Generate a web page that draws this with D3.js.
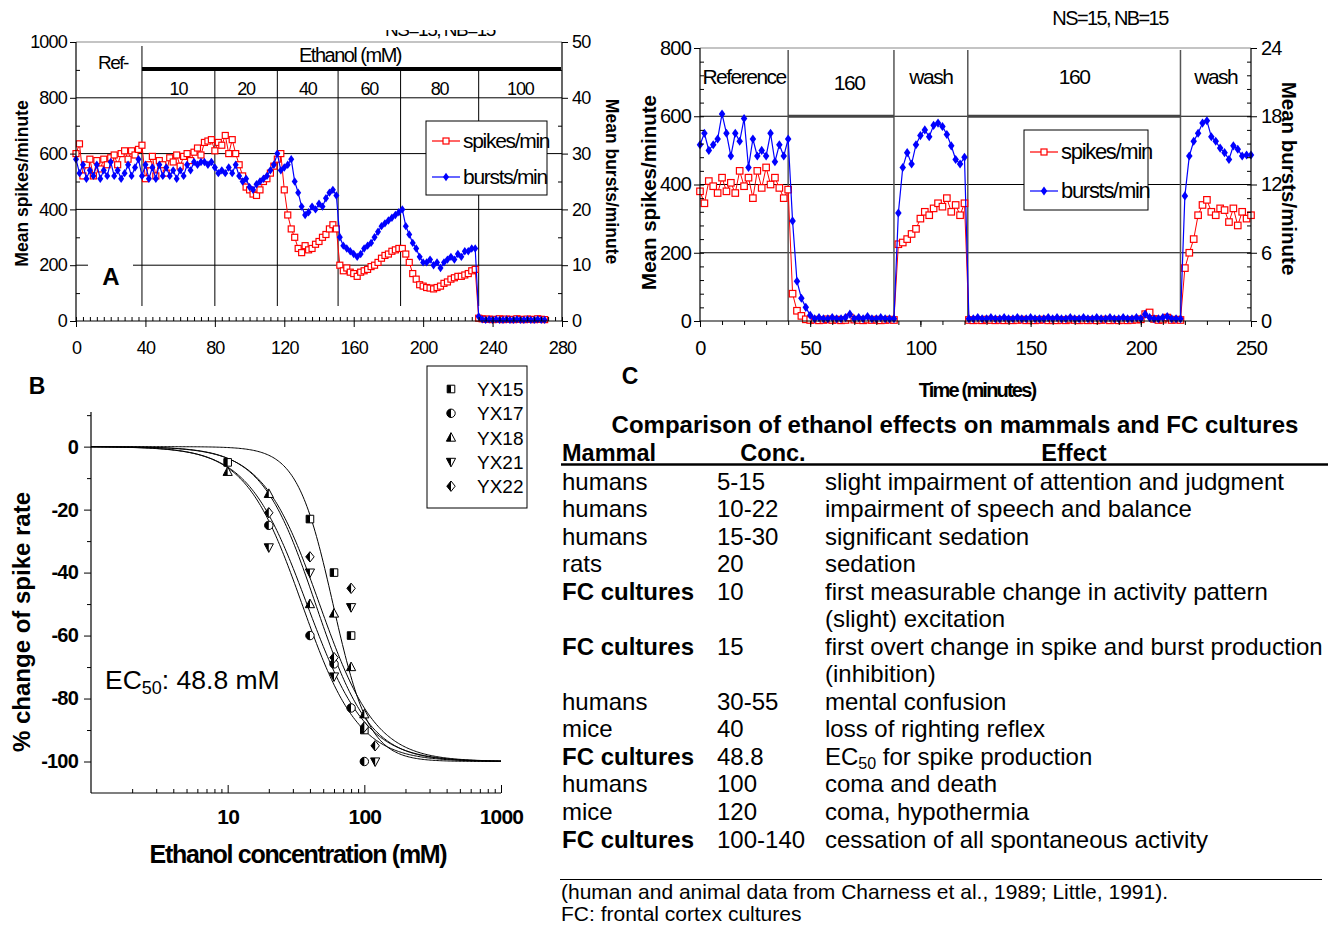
<!DOCTYPE html>
<html>
<head>
<meta charset="utf-8">
<script src="https://cdn.jsdelivr.net/npm/d3@7"></script>
<style>
  body { margin: 0; background: #fff; }
  svg { display: block; font-family: "Liberation Sans", Arial, sans-serif; }
  .nar { font-family: "Liberation Sans Narrow", "Arial Narrow", "Liberation Sans", Arial, sans-serif; }
</style>
</head>
<body>
<script>
// ---------- panel A: ethanol steps, sampled every 2 min ----------
const stepA = 2;
const spikesA = [600,635,520,560,580,520,575,545,580,560,
  585,595,560,600,610,580,610,595,615,630,
  510,560,590,520,575,560,530,585,570,595,
  555,590,600,575,605,620,595,640,645,650,
  610,640,630,665,600,650,600,560,520,480,
  470,455,450,470,500,510,530,555,580,600,
  470,380,330,300,260,245,270,255,260,275,
  285,300,310,330,345,330,200,180,190,175,
  170,160,175,180,185,195,200,210,225,235,
  240,250,255,260,260,240,210,170,150,130,
  125,120,118,115,120,125,135,140,150,155,
  160,160,165,170,180,185,10,8,6,7,
  5,6,8,5,7,6,5,8,6,5,
  7,6,5,8,6,5];
const burstsA = [29,26.5,28,25.5,27,26,28,25.5,27,26,
  28.5,26,27,25.5,26.5,28,26,27.5,29,26,
  28,25.5,27.5,25.5,28,26,27.5,26,27,25.5,
  27,26,28,27,28.5,28,28.5,28.5,28,28.5,
  27.5,26.5,27,26.5,27.5,26.5,28,26,25,25.5,
  24,23.5,24.5,25,25.5,26,27,28,30,27,
  27.5,28,29,25,23,20.5,19,19.5,20.5,20,
  21,20.5,22,23,23.5,22.5,15,13.5,13,12.5,
  12,11.5,12,13,13.5,14,15,16,17,17.5,
  18,18.5,19,19.5,20,17,15.5,14,13,11.5,
  10.5,10.5,11,10,10.5,9.5,10.5,11,11.5,11,
  12,11.5,12.5,12.5,13,13,0.8,0.3,0.2,0.3,
  0.2,0.3,0.2,0.2,0.3,0.2,0.2,0.3,0.2,0.2,
  0.3,0.2,0.2,0.3,0.2,0.2];
const phasesA = [38, 80, 116, 151, 187, 232];
const concLabelsA = ["10", "20", "40", "60", "80", "100"];

// ---------- panel C (top right): 160 mM and wash, sampled every 2 min ----------
const stepC = 2;
const spikesC = [380,345,410,395,375,420,380,405,375,440,
  395,420,360,440,390,450,400,420,390,360,
  385,80,30,15,5,3,4,2,3,5,
  3,4,2,3,10,4,3,2,4,3,
  4,2,3,4,3,225,230,240,255,270,
  300,320,310,330,345,335,360,320,340,310,
  345,3,2,3,2,4,3,2,3,2,
  3,2,3,4,2,3,2,3,4,2,
  3,2,3,2,4,3,2,3,2,3,
  2,3,4,2,3,2,3,2,3,4,
  5,20,25,6,3,4,10,3,4,3,
  155,200,240,310,340,355,320,310,330,325,
  290,330,280,320,300,310];
const burstsC = [15.5,16.5,15,15.5,16,18.2,16.5,14.5,16.5,15.8,
  17.8,13.5,16,14.5,15,14.5,16.5,14,15.5,14.5,
  16,8.8,3.5,2,1.2,0.5,0.2,0.3,0.2,0.2,
  0.3,0.2,0.2,0.3,0.6,0.2,0.3,0.2,0.4,0.2,
  0.2,0.3,0.2,0.2,0.2,9.5,13.5,14.8,13.8,15.5,
  16.3,16.8,16.2,17.2,17.4,17.1,16.4,15.4,14.2,13.8,
  14.4,0.2,0.2,0.3,0.2,0.2,0.3,0.2,0.2,0.3,
  0.2,0.2,0.3,0.2,0.2,0.3,0.2,0.2,0.2,0.3,
  0.2,0.3,0.2,0.2,0.3,0.2,0.2,0.3,0.2,0.2,
  0.3,0.2,0.2,0.3,0.2,0.2,0.3,0.2,0.2,0.3,
  0.2,0.6,0.3,0.2,0.2,0.3,0.4,0.2,0.2,0.2,
  11,14.5,15.8,16.5,17.4,17.6,16.2,15.8,15.2,14.8,
  14.2,15.4,15.1,14.5,14.6,14.6];
const phasesC = [0, 40, 88, 121.5, 218, 250];
const phaseLabelsC = ["Reference", "160", "wash", "160", "wash"];
const exposureC = [[40, 88], [121.5, 218]];

// ---------- panel B: dose response ----------
const cultures = ["YX15", "YX17", "YX18", "YX21", "YX22"];
const doseYX15 = [[10, -5], [40, -23], [60, -40], [80, -60], [100, -90]];
const doseYX17 = [[20, -25], [40, -60], [60, -69], [80, -83], [100, -100]];
const doseYX18 = [[10, -8], [20, -15], [40, -50], [60, -53], [80, -70], [100, -85]];
const doseYX21 = [[20, -32], [40, -40], [60, -73], [80, -51], [120, -100]];
const doseYX22 = [[20, -21], [40, -35], [60, -67], [80, -45], [100, -89], [120, -95]];
const fitEC50 = [35, 38, 44, 47, 59];
const fitHill = [2.1, 2.0, 2.2, 2.1, 3.3];

// ---------- table ----------
const tblMammal = ["humans","humans","humans","rats","FC cultures","","FC cultures","","humans","mice","FC cultures","humans","mice","FC cultures"];
const tblConc = ["5-15","10-22","15-30","20","10","","15","","30-55","40","48.8","100","120","100-140"];
const tblEffect = ["slight impairment of attention and judgment","impairment of speech and balance",
  "significant sedation","sedation","first measurable change in activity pattern","(slight) excitation",
  "first overt change in spike and burst production","(inhibition)","mental confusion",
  "loss of righting reflex","EC50 for spike production","coma and death","coma, hypothermia",
  "cessation of all spontaneous activity"];

const svg = d3.select("body").append("svg")
    .attr("width", 1334).attr("height", 928);

svg.append("rect").attr("width", 1334).attr("height", 928).attr("fill", "#fff");

const defs = svg.append("defs");
defs.append("clipPath").attr("id", "leftHalf")
  .append("rect").attr("x", -7).attr("y", -7).attr("width", 7).attr("height", 14);
defs.append("clipPath").attr("id", "topCut")
  .append("rect").attr("x", 300).attr("y", 30).attr("width", 300).attr("height", 12);

const plain = d => String(d);

function styleAxis(sel, size, bold) {
  sel.attr("font-family", null).attr("font-size", null);
  sel.select(".domain").remove();
  sel.selectAll("text")
    .attr("class", "nar")
    .style("font-size", size + "px")
    .style("letter-spacing", "-0.8px")
    .style("font-weight", bold ? "bold" : null)
    .attr("fill", "#000");
  sel.selectAll("line").attr("stroke", "#000");
}

// dual axis time course panel (used for A and top right C)
function drawTimePanel(o) {
  const x = d3.scaleLinear().domain([0, o.xMax]).range([o.left, o.right]);
  const yL = d3.scaleLinear().domain([0, o.yLMax]).range([o.bottom, o.top]);
  const yR = d3.scaleLinear().domain([0, o.yRMax]).range([o.bottom, o.top]);
  const g = svg.append("g");

  // horizontal grid
  g.selectAll(".hgrid").data(o.grid).enter().append("line")
      .attr("x1", o.left).attr("x2", o.right)
      .attr("y1", d => yL(d)).attr("y2", d => yL(d))
      .attr("stroke", "#000").attr("stroke-width", 1);

  if (o.under) o.under(g, x, yL, yR);

  // spikes/min (left axis)
  const lineL = d3.line().x((d, i) => x(i * o.step)).y(d => yL(d));
  const lineR = d3.line().x((d, i) => x(i * o.step)).y(d => yR(d));
  g.append("path").attr("d", lineL(o.spikes))
      .attr("fill", "none").attr("stroke", "#ff0000").attr("stroke-width", 1);
  g.selectAll(".sq").data(o.spikes).enter().append("rect")
      .attr("x", (d, i) => x(i * o.step) - o.ms / 2)
      .attr("y", d => yL(d) - o.ms / 2)
      .attr("width", o.ms).attr("height", o.ms)
      .attr("fill", "#fff").attr("stroke", "#ff0000").attr("stroke-width", 1.2);

  // bursts/min (right axis)
  g.append("path").attr("d", lineR(o.bursts))
      .attr("fill", "none").attr("stroke", "#0000ff").attr("stroke-width", 1.2);
  const dm = `M0,${-o.ms * 0.7}L${o.ms * 0.5},0L0,${o.ms * 0.7}L${-o.ms * 0.5},0Z`;
  g.selectAll(".dm").data(o.bursts).enter().append("path")
      .attr("d", dm)
      .attr("transform", (d, i) => `translate(${x(i * o.step)},${yR(d)})`)
      .attr("fill", "#0000ff");

  // legend
  const lg = g.append("g").attr("transform", `translate(${o.legend[0]},${o.legend[1]})`);
  lg.append("rect").attr("width", o.legend[2]).attr("height", o.legend[3])
      .attr("fill", "#fff").attr("stroke", "#000").attr("stroke-width", 1);
  const items = [{k: "spikes/min", c: "#ff0000"}, {k: "bursts/min", c: "#0000ff"}];
  items.forEach((it, i) => {
    const yy = o.legendRows[i];
    lg.append("line").attr("x1", 6).attr("x2", 34).attr("y1", yy).attr("y2", yy)
      .attr("stroke", it.c).attr("stroke-width", 1.2);
    if (i === 0) {
      lg.append("rect").attr("x", 17).attr("y", yy - 3).attr("width", 6).attr("height", 6)
        .attr("fill", "#fff").attr("stroke", it.c).attr("stroke-width", 1.2);
    } else {
      lg.append("path").attr("d", dm).attr("transform", `translate(20,${yy})`).attr("fill", it.c);
    }
    lg.append("text").attr("class", "nar").attr("x", 37).attr("y", yy + 7)
      .style("font-size", o.legendFont + "px").style("letter-spacing", "-1.3px")
      .text(it.k);
  });

  if (o.over) o.over(g, x, yL, yR);

  // frame
  g.append("line").attr("x1", o.left).attr("x2", o.right).attr("y1", o.top).attr("y2", o.top)
      .attr("stroke", "#8a8a8a").attr("stroke-width", 1.2);
  [o.left, o.right].forEach(xx => g.append("line")
      .attr("x1", xx).attr("x2", xx).attr("y1", o.top).attr("y2", o.bottom)
      .attr("stroke", "#000").attr("stroke-width", 1.2));
  g.append("line").attr("x1", o.left).attr("x2", o.right).attr("y1", o.bottom).attr("y2", o.bottom)
      .attr("stroke", "#000").attr("stroke-width", 1.2);

  // axes
  g.append("g").attr("transform", `translate(${o.left},0)`)
    .call(d3.axisLeft(yL).tickValues(o.yLMinor).tickSize(-4).tickFormat(""))
    .call(s => styleAxis(s, 17));
  g.append("g").attr("transform", `translate(${o.left},0)`)
    .call(d3.axisLeft(yL).tickValues(o.yLTicks).tickSize(6).tickPadding(3).tickFormat(plain))
    .call(s => styleAxis(s, o.tickFont));
  g.append("g").attr("transform", `translate(${o.right},0)`)
    .call(d3.axisRight(yR).tickValues(o.yRMinor).tickSize(-4).tickFormat(""))
    .call(s => styleAxis(s, 17));
  g.append("g").attr("transform", `translate(${o.right},0)`)
    .call(d3.axisRight(yR).tickValues(o.yRTicks).tickSize(6).tickPadding(4).tickFormat(plain))
    .call(s => styleAxis(s, o.tickFont));
  g.append("g").attr("transform", `translate(0,${o.bottom})`)
    .call(d3.axisBottom(x).tickValues(o.xMinor).tickSize(o.xMinorSize).tickFormat(""))
    .call(s => styleAxis(s, 17));
  g.append("g").attr("transform", `translate(0,${o.bottom})`)
    .call(d3.axisBottom(x).tickValues(o.xTicks).tickSize(6).tickPadding(14).tickFormat(plain))
    .call(s => styleAxis(s, o.tickFont));

  // axis titles
  g.append("text").attr("transform", `translate(${o.yLTitleX},${(o.top + o.bottom) / 2 + o.yLShift}) rotate(-90)`)
    .attr("text-anchor", "middle").style("font-weight", "bold").style("font-size", o.titleFont + "px")
    .text("Mean spikes/minute");
  g.append("text").attr("transform", `translate(${o.yRTitleX},${(o.top + o.bottom) / 2 + o.yRShift}) rotate(90)`)
    .attr("text-anchor", "middle").style("font-weight", "bold").style("font-size", o.titleFont + "px")
    .text("Mean bursts/minute");
  return {x, yL, yR, g};
}

// ---------- panel A ----------
drawTimePanel({
  xMax: 280, left: 76, right: 562, top: 42, bottom: 321,
  yLMax: 1000, yRMax: 50, step: stepA, ms: 6,
  spikes: spikesA, bursts: burstsA,
  grid: [200, 400, 600, 800],
  yLTicks: d3.range(0, 1001, 200), yLMinor: d3.range(100, 1000, 200),
  yRTicks: d3.range(0, 51, 10), yRMinor: d3.range(5, 50, 10),
  xTicks: d3.range(0, 281, 40), xMinor: d3.range(0, 281, 4), xMinorSize: -4,
  tickFont: 18, titleFont: 17.5, yLTitleX: 28, yRTitleX: 606, yLShift: 2, yRShift: 0,
  legend: [426, 121, 121, 74], legendRows: [20, 56], legendFont: 21,
  under: (g, x, yL) => {
    g.selectAll(".phase").data(phasesA).enter().append("line")
      .attr("x1", d => x(d)).attr("x2", d => x(d))
      .attr("y1", (d, i) => i === 0 ? 46 : 71).attr("y2", 306)
      .attr("stroke", "#000").attr("stroke-width", 1);
    // ethanol bar
    g.append("line").attr("x1", x(phasesA[0])).attr("x2", 561).attr("y1", 69).attr("y2", 69)
      .attr("stroke", "#000").attr("stroke-width", 4);
    g.append("text").attr("class", "nar").attr("x", 113).attr("y", 69)
      .attr("text-anchor", "middle").style("font-size", "19px").style("letter-spacing", "-1.5px").text("Ref-");
    g.append("text").attr("class", "nar").attr("x", 350).attr("y", 62)
      .attr("text-anchor", "middle").style("font-size", "20px").style("letter-spacing", "-1.5px").text("Ethanol (mM)");
    const ends = phasesA.concat([280]);
    g.selectAll(".conc").data(concLabelsA).enter().append("text").attr("class", "nar")
      .attr("x", (d, i) => x((ends[i] + ends[i + 1]) / 2)).attr("y", 95)
      .attr("text-anchor", "middle").style("font-size", "18px").style("letter-spacing", "-1.2px")
      .text(d => d);
    // label A with its white box over the 200 gridline
    g.append("rect").attr("x", 88).attr("y", 262).attr("width", 45).attr("height", 30).attr("fill", "#fff");
    g.append("text").attr("x", 111).attr("y", 285).attr("text-anchor", "middle")
      .style("font-weight", "bold").style("font-size", "24px").text("A");
  }
});

// cut off header text above panel A
svg.append("text").attr("class", "nar").attr("x", 440).attr("y", 36)
  .attr("clip-path", "url(#topCut)")
  .attr("text-anchor", "middle").style("font-size", "19px").style("letter-spacing", "-1.5px")
  .text("NS=15, NB=15");

// ---------- panel C top right ----------
drawTimePanel({
  xMax: 250, left: 700, right: 1251, top: 48, bottom: 321,
  yLMax: 800, yRMax: 24, step: stepC, ms: 6.5,
  spikes: spikesC, bursts: burstsC,
  grid: [200, 400, 600],
  yLTicks: d3.range(0, 801, 200), yLMinor: d3.range(40, 800, 40),
  yRTicks: d3.range(0, 25, 6), yRMinor: d3.range(1.2, 24, 1.2),
  xTicks: d3.range(0, 251, 50), xMinor: d3.range(0, 251, 10), xMinorSize: 4,
  tickFont: 20, titleFont: 20.5, yLTitleX: 656, yRTitleX: 1282, yLShift: 8, yRShift: -6,
  legend: [1024, 130, 124, 80], legendRows: [22, 61], legendFont: 22,
  under: (g, x, yL) => {
    g.selectAll(".phase").data(phasesC.slice(1, -1)).enter().append("line")
      .attr("x1", d => x(d)).attr("x2", d => x(d))
      .attr("y1", 50).attr("y2", 321)
      .attr("stroke", "#555").attr("stroke-width", 1.5);
    g.selectAll(".expo").data(exposureC).enter().append("line")
      .attr("x1", d => x(d[0])).attr("x2", d => x(d[1]))
      .attr("y1", yL(600)).attr("y2", yL(600))
      .attr("stroke", "#444").attr("stroke-width", 3);
    g.selectAll(".plab").data(phaseLabelsC).enter().append("text").attr("class", "nar")
      .attr("x", (d, i) => x((phasesC[i] + phasesC[i + 1]) / 2) + (i === 1 ? 8 : 0))
      .attr("y", (d, i) => i === 1 ? 90 : 84)
      .attr("text-anchor", "middle").style("font-size", "21px").style("letter-spacing", "-1.5px")
      .text(d => d);
  }
});

svg.append("text").attr("class", "nar").attr("x", 1110).attr("y", 25)
  .attr("text-anchor", "middle").style("font-size", "20px").style("letter-spacing", "-1.6px")
  .text("NS=15, NB=15");
svg.append("text").attr("class", "nar").attr("x", 977).attr("y", 397)
  .attr("text-anchor", "middle").style("font-size", "20px").style("font-weight", "bold")
  .style("letter-spacing", "-1.8px").text("Time (minutes)");
svg.append("text").attr("x", 630).attr("y", 384).attr("text-anchor", "middle")
  .style("font-weight", "bold").style("font-size", "23px").text("C");

// ---------- panel B ----------
const xB = d3.scaleLog().domain([1, 1000]).range([91, 501]);
const yB = d3.scaleLinear().domain([-110, 11]).range([793, 412]);
const gB = svg.append("g");

svg.append("text").attr("x", 37).attr("y", 394).attr("text-anchor", "middle")
  .style("font-weight", "bold").style("font-size", "23px").text("B");

// fitted curves
const curveGrid = d3.range(0, 3.0001, 0.01).map(v => Math.pow(10, v));
const hill = d3.line().x(d => xB(d[0])).y(d => yB(d[1]));
fitEC50.forEach((ec, i) => {
  gB.append("path")
    .attr("d", hill(curveGrid.map(c => [c, -100 / (1 + Math.pow(ec / c, fitHill[i]))])))
    .attr("fill", "none").attr("stroke", "#000").attr("stroke-width", 1);
});

const markerPaths = [
  "M-3.8,-3.8H3.8V3.8H-3.8Z",
  d3.symbol(d3.symbolCircle, 56)(),
  "M0,-5L4.6,3.6H-4.6Z",
  "M0,5L4.6,-3.6H-4.6Z",
  "M0,-5.2L4.2,0L0,5.2L-4.2,0Z"
];
function halfMarker(sel, p) {
  sel.append("path").attr("d", p).attr("fill", "#fff").attr("stroke", "#000").attr("stroke-width", 1);
  sel.append("path").attr("d", p).attr("fill", "#000").attr("clip-path", "url(#leftHalf)");
}
[doseYX15, doseYX17, doseYX18, doseYX21, doseYX22].forEach((set, k) => {
  gB.selectAll(".m" + k).data(set).enter().append("g")
    .attr("transform", d => `translate(${xB(d[0])},${yB(d[1])})`)
    .each(function () { halfMarker(d3.select(this), markerPaths[k]); });
});

// axes B
gB.append("g").attr("transform", "translate(91,0)")
  .call(d3.axisLeft(yB).tickValues([10, -10, -30, -50, -70, -90]).tickSize(4).tickFormat(""))
  .call(s => styleAxis(s, 18));
gB.append("g").attr("transform", "translate(91,0)")
  .call(d3.axisLeft(yB).tickValues([0, -20, -40, -60, -80, -100]).tickSize(7).tickPadding(6).tickFormat(plain))
  .call(s => styleAxis(s, 20, true));
const minorB = [2,3,4,5,6,7,8,9,20,30,40,50,60,70,80,90,200,300,400,500,600,700,800,900];
gB.append("g").attr("transform", "translate(0,793)")
  .call(d3.axisBottom(xB).tickValues(minorB).tickSize(-4).tickFormat(""))
  .call(s => styleAxis(s, 18));
gB.append("g").attr("transform", "translate(0,793)")
  .call(d3.axisBottom(xB).tickValues([10, 100, 1000]).tickSize(-8).tickPadding(16).tickFormat(plain))
  .call(s => styleAxis(s, 21, true));
gB.append("line").attr("x1", 91).attr("x2", 91).attr("y1", 412).attr("y2", 793).attr("stroke", "#000").attr("stroke-width", 1.2);
gB.append("line").attr("x1", 91).attr("x2", 501).attr("y1", 793).attr("y2", 793).attr("stroke", "#000").attr("stroke-width", 1.2);

gB.append("text").attr("transform", "translate(30,622) rotate(-90)").attr("text-anchor", "middle")
  .style("font-weight", "bold").style("font-size", "24px").text("% change of spike rate");
gB.append("text").attr("class", "nar").attr("x", 298).attr("y", 863).attr("text-anchor", "middle")
  .style("font-weight", "bold").style("font-size", "25px").style("letter-spacing", "-1.3px")
  .text("Ethanol concentration (mM)");
const ec = gB.append("text").attr("x", 105).attr("y", 689).style("font-size", "26.5px");
ec.append("tspan").text("EC");
ec.append("tspan").attr("dy", 5).style("font-size", "18px").text("50");
ec.append("tspan").attr("dy", -5).text(": 48.8 mM");

// legend B
const lgB = gB.append("g").attr("transform", "translate(427,366)");
lgB.append("rect").attr("width", 100).attr("height", 142).attr("fill", "#fff").attr("stroke", "#000");
cultures.forEach((c, k) => {
  const yy = 23 + k * 24.3;
  halfMarker(lgB.append("g").attr("transform", `translate(24,${yy})`), markerPaths[k]);
  lgB.append("text").attr("x", 50).attr("y", yy + 7).style("font-size", "19px").text(c);
});

// ---------- table ----------
const gT = svg.append("g");
gT.append("text").attr("x", 955).attr("y", 433).attr("text-anchor", "middle")
  .style("font-weight", "bold").style("font-size", "24px").text("Comparison of ethanol effects on mammals and FC cultures");
gT.append("text").attr("x", 562).attr("y", 461).style("font-weight", "bold").style("font-size", "23.5px").text("Mammal");
gT.append("text").attr("x", 773).attr("y", 461).attr("text-anchor", "middle").style("font-weight", "bold").style("font-size", "23.5px").text("Conc.");
gT.append("text").attr("x", 1074).attr("y", 461).attr("text-anchor", "middle").style("font-weight", "bold").style("font-size", "23.5px").text("Effect");
gT.append("line").attr("x1", 561).attr("x2", 1328).attr("y1", 464.5).attr("y2", 464.5).attr("stroke", "#000").attr("stroke-width", 2.5);

const rowY = d3.scalePoint().domain(d3.range(tblEffect.length)).range([481, 839]);
tblMammal.forEach((m, i) => {
  const base = rowY(i) + 8.5;
  gT.append("text").attr("x", 562).attr("y", base).style("font-size", "24px")
    .style("font-weight", m === "FC cultures" ? "bold" : null).text(m);
  gT.append("text").attr("x", 717).attr("y", base).style("font-size", "24px").text(tblConc[i]);
  const t = gT.append("text").attr("x", 825).attr("y", base).style("font-size", "24px");
  if (tblEffect[i].startsWith("EC50")) {
    t.append("tspan").text("EC");
    t.append("tspan").attr("dy", 4).style("font-size", "16px").text("50");
    t.append("tspan").attr("dy", -4).text(tblEffect[i].slice(4));
  } else {
    t.text(tblEffect[i]);
  }
});
gT.append("line").attr("x1", 560).attr("x2", 1322).attr("y1", 879.5).attr("y2", 879.5).attr("stroke", "#000").attr("stroke-width", 1);
gT.append("text").attr("x", 561).attr("y", 899).style("font-size", "21px")
  .text("(human and animal data from Charness et al., 1989; Little, 1991).");
gT.append("text").attr("x", 561).attr("y", 921).style("font-size", "21px")
  .text("FC: frontal cortex cultures");
</script>
</body>
</html>
